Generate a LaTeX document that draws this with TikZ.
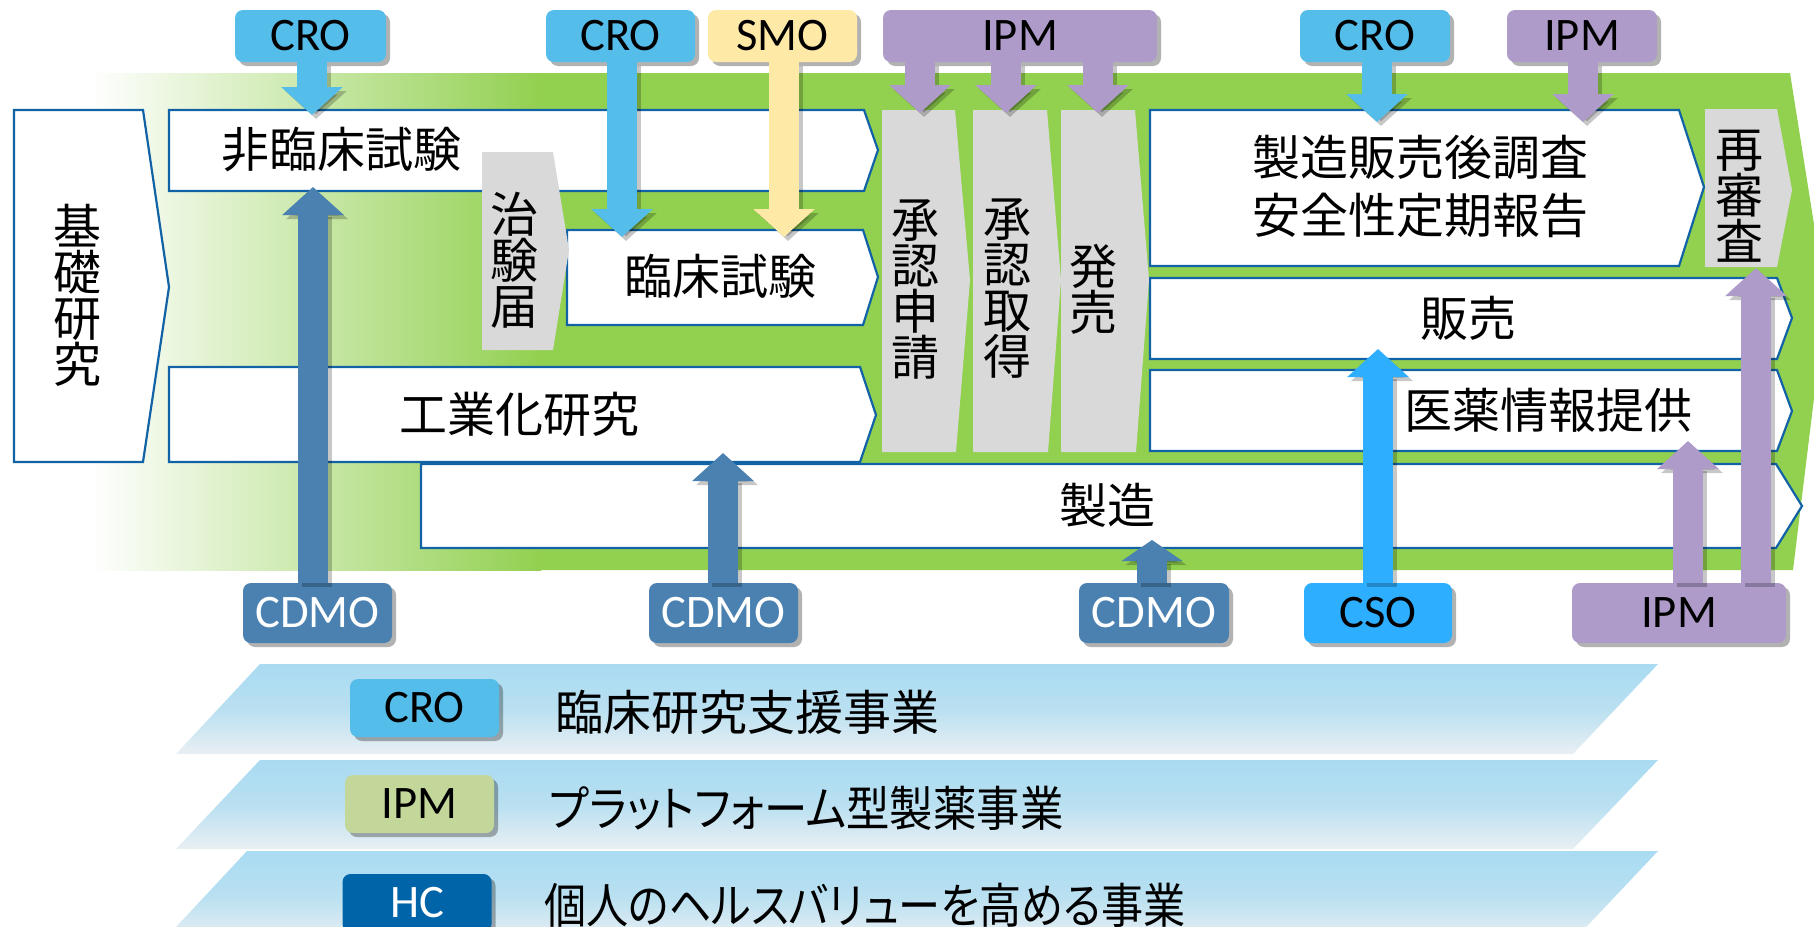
\documentclass[tikz,border=0pt]{standalone}
\usepackage{fontspec}
\usepackage{graphicx}
\setmainfont{Carlito}
\newfontfamily\jp{Noto Sans CJK JP}
\newfontfamily\jpp[RawFeature={+palt}]{Noto Sans CJK JP}
\usetikzlibrary{arrows.meta,shadows,calc}
\definecolor{grn}{HTML}{92D050}
\definecolor{croC}{HTML}{55BDEA}
\definecolor{smoC}{HTML}{FFE9A6}
\definecolor{ipmC}{HTML}{AE9BCA}
\definecolor{cdmoC}{HTML}{4A81B0}
\definecolor{csoC}{HTML}{2EAEFF}
\definecolor{ipmL}{HTML}{C4D79B}
\definecolor{hcC}{HTML}{0064A8}
\definecolor{edgeC}{HTML}{1262A6}
\definecolor{greyC}{HTML}{D9D9D9}
\definecolor{bandT}{HTML}{A9DBF2}
\definecolor{bandM}{HTML}{B9E0F1}
\definecolor{bandB}{HTML}{E9EFF3}
\tikzset{
  flowbox/.style={draw=edgeC, line width=1.1pt, fill=white, line join=miter},
  greycol/.style={fill=greyC},
  jptext/.style={font=\jp\fontsize{24}{29}\selectfont, inner sep=0pt, align=center},
  vtext/.style={font=\jp\fontsize{24}{23}\selectfont, align=center, inner sep=0pt},
  lab/.style={rectangle, rounded corners=4pt, inner sep=0pt,
    font=\fontsize{23.3}{26}\selectfont,
    drop shadow={shadow xshift=2pt, shadow yshift=-2pt, opacity=0.3, fill=black}},
  toplab/.style={lab, minimum height=26pt},
  botlab/.style={lab, minimum height=30pt},
  leglab/.style={lab, minimum height=29pt, minimum width=74.5pt},
  band/.style={top color=bandT, bottom color=bandB, middle color=bandM},
}
\newcommand\blockarr[4][14pt]{%
  \draw[line width=15pt, -{Triangle[width=30pt,length=#1]}, black, opacity=0.22,
        transform canvas={xshift=2pt,yshift=-2pt}] #3 -- #4;
  \draw[line width=15pt, -{Triangle[width=30pt,length=#1]}, #2] #3 -- #4;}
\begin{document}
\begin{tikzpicture}[x=0.5pt,y=-0.5pt]
\useasboundingbox (0,0) rectangle (1814,926);
\clip (0,0) rectangle (1814,926);

% green band
\shade[left color=white, right color=grn] (91,73) rectangle (541,570);
\fill[grn] (540,73) -- (1790,73) -- (1826,300) -- (1793,570) -- (540,570) -- cycle;

% legend bands
\path[band] (260,664) -- (1658,664) -- (1573,754) -- (176,754) -- cycle;
\path[band] (260,760) -- (1658,760) -- (1573,849) -- (176,849) -- cycle;
\path[band] (247,851) -- (1658,851) -- (1573,941) -- (163,941) -- cycle;

% white flow boxes
\path[flowbox] (14,110) -- (143,110) -- (169,287) -- (143,462) -- (14,462) -- cycle;
\path[flowbox] (169,110) -- (864,110) -- (878,150) -- (864,191) -- (169,191) -- cycle;
\path[flowbox] (567,230) -- (863,230) -- (878,277) -- (863,325) -- (567,325) -- cycle;
\path[flowbox] (169,367) -- (860,367) -- (876,415) -- (860,462) -- (169,462) -- cycle;
\path[flowbox] (421,464) -- (1776,464) -- (1802,506) -- (1776,548) -- (421,548) -- cycle;
\path[flowbox] (1150,110) -- (1679,110) -- (1704,187) -- (1679,266) -- (1150,266) -- cycle;
\path[flowbox] (1150,278) -- (1777,278) -- (1792,318) -- (1777,359) -- (1150,359) -- cycle;
\path[flowbox] (1150,370) -- (1777,370) -- (1792,411) -- (1777,451) -- (1150,451) -- cycle;

% grey milestones
\path[greycol] (482,152) -- (553,152) -- (569,250) -- (553,350) -- (482,350) -- cycle;
\path[greycol] (882,110) -- (955,110) -- (970,280) -- (956,452) -- (882,452) -- cycle;
\path[greycol] (973,110) -- (1047,110) -- (1061,280) -- (1048,452) -- (973,452) -- cycle;
\path[greycol] (1061,110) -- (1135,110) -- (1149,280) -- (1136,452) -- (1061,452) -- cycle;
\path[greycol] (1705,109) -- (1777,109) -- (1792,190) -- (1777,267) -- (1705,267) -- cycle;

% texts of the flow
\node[vtext] (kiso) at (78,295) {基\\礎\\研\\究};
\node[jptext] (hirin) at (341,149) {非臨床試験};
\node[vtext] (chiken) at (514,260) {治\\験\\届};
\node[jptext] (rinsho) at (720,276) {臨床試験};
\node[jptext] (kogyo) at (519,414) {工業化研究};
\node[vtext] (shinsei) at (915,289) {承\\認\\申\\請};
\node[vtext] (shutoku) at (1007,289) {承\\認\\取\\得};
\node[vtext] (hatsubai) at (1093,289) {発\\売};
\node[jptext] (pms) at (1420,186) {製造販売後調査\\安全性定期報告};
\node[vtext] (saishinsa) at (1739,196) {再\\審\\査};
\node[jptext] (hanbai) at (1468,318) {販売};
\node[jptext] (iyaku) at (1548,410) {医薬情報提供};
\node[jptext] (seizo) at (1107,505) {製造};

% label boxes
\node[toplab, fill=croC, minimum width=75.5pt] (cro1) at (310.5,36) {CRO};
\node[toplab, fill=croC, minimum width=74.5pt] (cro2) at (620.5,36) {CRO};
\node[toplab, fill=smoC, minimum width=74.5pt] (smo) at (782.5,36) {SMO};
\node[toplab, fill=ipmC, minimum width=137pt] (ipm1) at (1020,36) {IPM};
\node[toplab, fill=croC, minimum width=75pt] (cro3) at (1375,36) {CRO};
\node[toplab, fill=ipmC, minimum width=75pt] (ipm2) at (1582,36) {IPM};
\node[botlab, fill=cdmoC, text=white, minimum width=74.5pt] (cdmo1) at (317.5,613) {CDMO};
\node[botlab, fill=cdmoC, text=white, minimum width=74.5pt] (cdmo2) at (723.5,613) {CDMO};
\node[botlab, fill=cdmoC, text=white, minimum width=75pt] (cdmo3) at (1154,613) {CDMO};
\node[botlab, fill=csoC, minimum width=74pt] (cso) at (1378,613) {CSO};
\node[botlab, fill=ipmC, minimum width=107pt] (ipm3) at (1679,613) {IPM};

% arrow tips
\coordinate (tcro1) at (312,115);
\coordinate (tcro2) at (622,237);
\coordinate (tsmo) at (784,237);
\coordinate (tipma) at (920,113);
\coordinate (tipmb) at (1006,113);
\coordinate (tipmc) at (1098,113);
\coordinate (tcro3) at (1377,122);
\coordinate (tipm2) at (1583,122);
\coordinate (tcdmo1) at (313,187);
\coordinate (tcdmo2) at (723,453);
\coordinate (tcdmo3) at (1152,540);
\coordinate (tcso) at (1378,349);
\coordinate (tipmd) at (1688,441);
\coordinate (tipme) at (1756,268);

% block arrows
\blockarr{croC}{(cro1.south -| tcro1)}{(tcro1)}
\blockarr{croC}{(cro2.south -| tcro2)}{(tcro2)}
\blockarr{smoC}{(smo.south -| tsmo)}{(tsmo)}
\blockarr{ipmC}{(ipm1.south -| tipma)}{(tipma)}
\blockarr{ipmC}{(ipm1.south -| tipmb)}{(tipmb)}
\blockarr{ipmC}{(ipm1.south -| tipmc)}{(tipmc)}
\blockarr{croC}{(cro3.south -| tcro3)}{(tcro3)}
\blockarr{ipmC}{(ipm2.south -| tipm2)}{(tipm2)}
\blockarr{cdmoC}{(cdmo1.north -| tcdmo1)}{(tcdmo1)}
\blockarr{cdmoC}{(cdmo2.north -| tcdmo2)}{(tcdmo2)}
\blockarr[10.5pt]{cdmoC}{(cdmo3.north -| tcdmo3)}{(tcdmo3)}
\blockarr{csoC}{(cso.north -| tcso)}{(tcso)}
\blockarr{ipmC}{(ipm3.north -| tipmd)}{(tipmd)}
\blockarr{ipmC}{(ipm3.north -| tipme)}{(tipme)}

% legend
\node[leglab, fill=croC] (lcro) at (424.5,708) {CRO};
\node[leglab, fill=ipmL] (lipm) at (419.5,804) {IPM};
\node[leglab, fill=hcC, text=white] (lhc) at (417,903) {HC};
\node[jptext, anchor=west] (lcrot) at (555,712) {臨床研究支援事業};
\node[jptext, anchor=west] (lipmt) at (549,808) {\resizebox{257pt}{\height}{\jpp プラットフォーム型製薬事業}};
\node[jptext, anchor=west] (lhct) at (544,905) {\resizebox{320.5pt}{\height}{\jpp 個人のヘルスバリューを高める事業}};
\end{tikzpicture}
\end{document}
